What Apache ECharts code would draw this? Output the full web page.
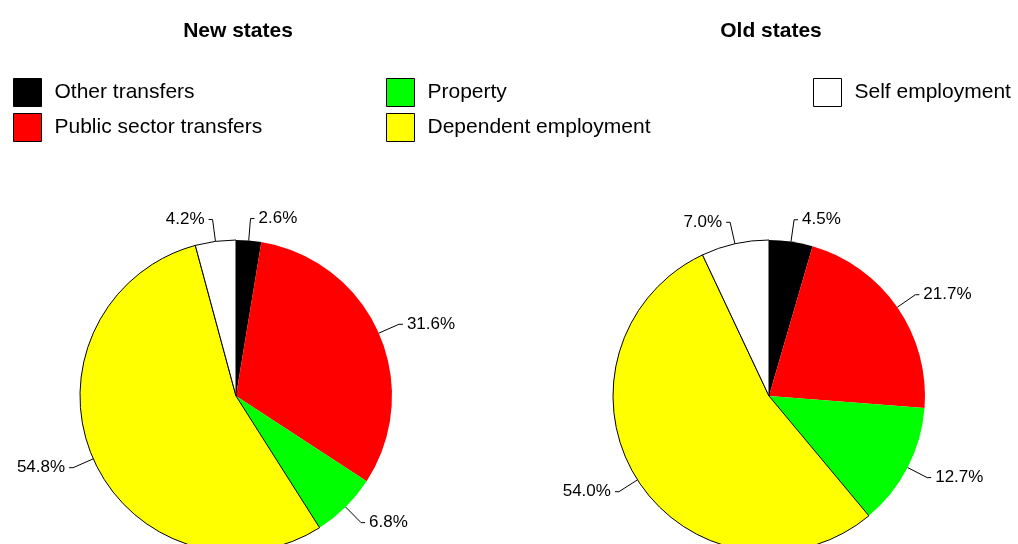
<!DOCTYPE html>
<html>
<head>
<meta charset="utf-8">
<script src="https://cdn.jsdelivr.net/npm/echarts@6/dist/echarts.min.js"></script>
<style>
  html, body { margin: 0; padding: 0; background: #fff; }
  #main { width: 1018px; height: 544px; }
</style>
</head>
<body>
<div id="main"></div>
<script>
var categories = ['Other transfers', 'Public sector transfers', 'Property', 'Dependent employment', 'Self employment'];
var newStates = [2.6, 31.6, 6.8, 54.8, 4.2];
var oldStates = [4.5, 21.7, 12.7, 54.0, 7.0];
var palette = ['#000000', '#ff0000', '#00ff00', '#ffff00', '#ffffff'];
// only the light slices get a visible outline in the original
var outlined = [false, false, false, true, true];

var myChart = echarts.init(document.getElementById('main'));
var font = 'Liberation Sans, Arial, sans-serif';

function pieData(values) {
  var out = [];
  for (var i = 0; i < categories.length; i++) {
    out.push({
      name: categories[i],
      value: values[i],
      itemStyle: {
        color: palette[i],
        borderColor: outlined[i] ? '#000' : palette[i],
        borderWidth: outlined[i] ? 1 : 0
      }
    });
  }
  return out;
}

function pieSeries(name, values, cx) {
  return {
    name: name,
    type: 'pie',
    center: [cx, 396],
    radius: 156,
    startAngle: 90,
    clockwise: true,
    avoidLabelOverlap: false,
    silent: true,
    data: pieData(values),
    label: {
      show: true,
      position: 'outside',
      formatter: function (p) { return p.value.toFixed(1) + '%'; },
      color: '#000',
      fontFamily: font,
      fontSize: 17,
      distanceToLabelLine: 4
    },
    labelLine: {
      show: true,
      length: 22,
      length2: 4,
      lineStyle: { color: '#000', width: 1 }
    }
  };
}

function legend(names, x) {
  return {
    orient: 'vertical',
    left: x,
    top: 73,
    itemWidth: 28,
    itemHeight: 28,
    itemGap: 6,
    icon: 'rect',
    selectedMode: false,
    data: names,
    itemStyle: { borderColor: '#000', borderWidth: 1 },
    textStyle: { fontFamily: font, fontSize: 21, color: '#000', padding: [0, 0, 0, 8] }
  };
}

var option = {
  backgroundColor: '#fff',
  animation: false,
  title: [
    { text: 'New states', left: 233, top: 16, textAlign: 'center',
      textStyle: { fontFamily: font, fontSize: 21, fontWeight: 'bold', color: '#000' } },
    { text: 'Old states', left: 766, top: 16, textAlign: 'center',
      textStyle: { fontFamily: font, fontSize: 21, fontWeight: 'bold', color: '#000' } }
  ],
  legend: [
    legend([categories[0], categories[1]], 8),
    legend([categories[2], categories[3]], 381),
    legend([categories[4]], 808)
  ],
  series: [
    pieSeries('New states', newStates, 236),
    pieSeries('Old states', oldStates, 769)
  ]
};
myChart.setOption(option);
</script>
</body>
</html>
